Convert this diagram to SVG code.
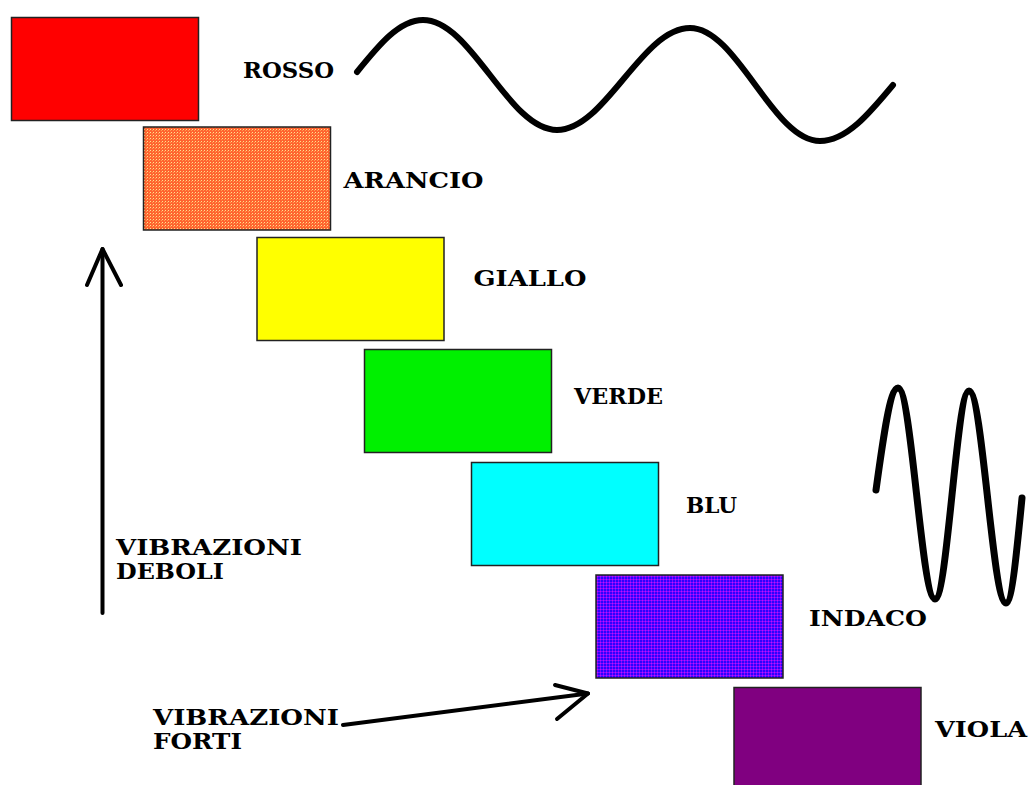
<svg xmlns="http://www.w3.org/2000/svg" width="1032" height="785" viewBox="0 0 1032 785">
  <style>
    .box { stroke: #222; stroke-width: 1.5; }
    .lbl { font-family: "DejaVu Serif", "Liberation Serif", serif; font-weight: bold; font-size: 22px; fill: #000; }
    .wave { fill: none; stroke: #000; stroke-width: 6; stroke-linecap: round; stroke-linejoin: round; }
    .arrow { fill: none; stroke: #000; stroke-width: 4; stroke-linecap: round; stroke-linejoin: round; }
  </style>
  <defs>
    <pattern id="pat-arancio" patternUnits="userSpaceOnUse" width="3" height="3">
      <rect width="3" height="3" fill="#ff6430"/>
      <rect x="0" y="0" width="1" height="1" fill="#ffe090"/>
      <rect x="2" y="1" width="1" height="1" fill="#ffa050"/>
    </pattern>
    <pattern id="pat-indaco" patternUnits="userSpaceOnUse" width="3" height="3">
      <rect width="3" height="3" fill="#3000ff"/>
      <rect x="0" y="0" width="3" height="1" fill="#7a10ff"/>
      <rect x="0" y="0" width="1" height="3" fill="#7a10ff"/>
      <rect x="0" y="0" width="1" height="1" fill="#d000ff"/>
    </pattern>
  </defs>
  <rect width="1032" height="785" fill="#fff"/>

  <g id="rosso">
    <rect class="box" x="11.5" y="17.5" width="187" height="103" fill="#ff0000"/>
    <text class="lbl" x="243" y="78" textLength="91" lengthAdjust="spacingAndGlyphs">ROSSO</text>
  </g>
  <g id="arancio">
    <rect class="box" x="143.5" y="127" width="187" height="103" fill="url(#pat-arancio)"/>
    <text class="lbl" x="343.5" y="187.5" textLength="140" lengthAdjust="spacingAndGlyphs">ARANCIO</text>
  </g>
  <g id="giallo">
    <rect class="box" x="257" y="237.5" width="187" height="103" fill="#ffff00"/>
    <text class="lbl" x="473.5" y="286" textLength="113" lengthAdjust="spacingAndGlyphs">GIALLO</text>
  </g>
  <g id="verde">
    <rect class="box" x="364.5" y="349.5" width="187" height="103" fill="#00f000"/>
    <text class="lbl" x="574" y="404" textLength="89" lengthAdjust="spacingAndGlyphs">VERDE</text>
  </g>
  <g id="blu">
    <rect class="box" x="471.5" y="462.5" width="187" height="103" fill="#00ffff"/>
    <text class="lbl" x="686" y="513" textLength="51" lengthAdjust="spacingAndGlyphs">BLU</text>
  </g>
  <g id="indaco">
    <rect class="box" x="596" y="575" width="187" height="103" fill="url(#pat-indaco)"/>
    <text class="lbl" x="809" y="626" textLength="118" lengthAdjust="spacingAndGlyphs">INDACO</text>
  </g>
  <g id="viola">
    <rect class="box" x="734" y="687.5" width="187" height="103" fill="#800080"/>
    <text class="lbl" x="935" y="737" textLength="92" lengthAdjust="spacingAndGlyphs">VIOLA</text>
  </g>

  <g id="vibrazioni-deboli">
    <text class="lbl" x="116" y="555" textLength="186" lengthAdjust="spacingAndGlyphs">VIBRAZIONI</text>
    <text class="lbl" x="116" y="579" textLength="108" lengthAdjust="spacingAndGlyphs">DEBOLI</text>
  </g>
  <g id="vibrazioni-forti">
    <text class="lbl" x="153" y="725" textLength="186" lengthAdjust="spacingAndGlyphs">VIBRAZIONI</text>
    <text class="lbl" x="153" y="749" textLength="89" lengthAdjust="spacingAndGlyphs">FORTI</text>
  </g>

  <g id="waves">
    <path class="wave" d="M357,72 C378.5,45.4 399.1,20 423,20 C471.8,20 508.2,130 557,130 C605.4,130 641.6,28 690,28 C737.3,28 772.7,141 820,141 C846.4,141 869.2,113.7 893,85"/>
    <path class="wave" style="stroke-width:7" d="M876,490 C883.2,437.7 890,388 898,388 C911.5,388 921.5,599 935,599 C947.4,599 956.6,391 969,391 C982.5,391 992.5,603 1006,603 C1011.8,603 1016.8,551.8 1022,498"/>
  </g>

  <g id="connectors">
    <path class="arrow" d="M102.5,613 L102.5,249"/>
    <path class="arrow" d="M87,285 L102.5,249 L121,285"/>
    <path class="arrow" d="M343,725 L588,693.5"/>
    <path class="arrow" d="M555,685 L588,693.5 L557,719"/>
  </g>
</svg>
